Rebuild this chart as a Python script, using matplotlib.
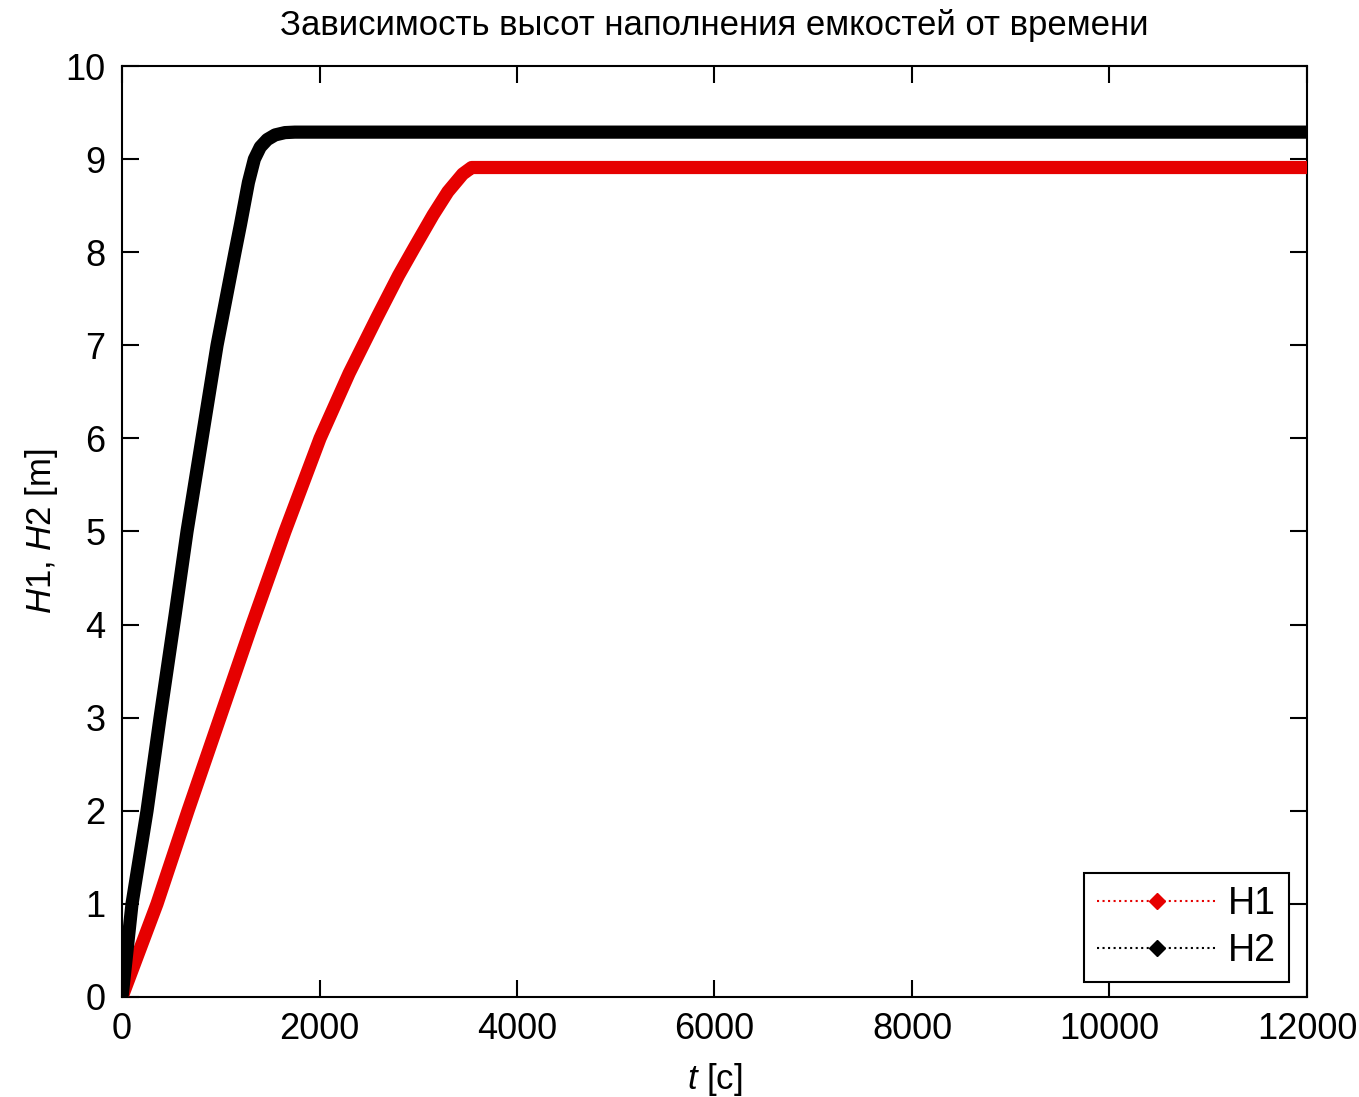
"""
Courbes H1, H2 (hauteurs de remplissage des reservoirs) en fonction du temps,
style figure MATLAB.
"""

import matplotlib
matplotlib.use("Agg")
import matplotlib.pyplot as plt
from matplotlib.lines import Line2D

plt.rcParams['font.family'] = ['Liberation Sans', 'DejaVu Sans']
plt.rcParams['mathtext.fontset'] = 'custom'
plt.rcParams['mathtext.it'] = 'Liberation Sans:italic'
plt.rcParams['mathtext.rm'] = 'Liberation Sans'

# valeurs
T_H1 = [0, 354, 668, 992, 1316, 1650, 2005, 2300, 2582, 2800, 2960,
        3150, 3300, 3450, 3540, 3600, 12000]
H1 = [0, 1.0, 2.0, 3.0, 4.0, 5.0, 6.0, 6.7, 7.3, 7.75, 8.05,
      8.4, 8.65, 8.84, 8.91, 8.91, 8.91]

T_H2 = [0, 101, 253, 385, 537, 658, 810, 962, 1144, 1200, 1280, 1340,
        1400, 1470, 1550, 1650, 1750, 12000]
H2 = [0, 1.0, 2.0, 3.0, 4.1, 5.0, 6.0, 7.0, 8.0, 8.3, 8.75, 9.0,
      9.13, 9.21, 9.26, 9.285, 9.29, 9.29]

X_TICKS = [0, 2000, 4000, 6000, 8000, 10000, 12000]
Y_TICKS = list(range(0, 11))

TITRE = "Зависимость высот наполнения емкостей от времени"
FS = 25

fig = plt.figure(figsize=(13.59, 10.97), dpi=100)
ax = fig.add_axes([0.0898, 0.0912, 0.9617 - 0.0898, 0.9398 - 0.0912])

ax.plot(T_H1, H1, color="#e60000", linewidth=9.5, solid_joinstyle="round",
        solid_capstyle="round", zorder=3)
ax.plot(T_H2, H2, color="black", linewidth=9.5, solid_joinstyle="round",
        solid_capstyle="round", zorder=3)

ax.set_xlim(0, 12000)
ax.set_ylim(0, 10)
ax.set_xticks(X_TICKS)
ax.set_yticks(Y_TICKS)
ax.tick_params(direction="in", length=12, width=1.5, top=True, right=True,
               labelsize=FS + 1)
ax.tick_params(axis="x", pad=11)
ax.tick_params(axis="y", pad=12)
for sp in ax.spines.values():
    sp.set_linewidth(1.5)

ax.set_title(TITRE, fontsize=FS, pad=22)
ax.set_xlabel(r"$t$ [c]", fontsize=FS, labelpad=10)
ax.set_ylabel(r"$H1$, $H2$ [m]", fontsize=FS, labelpad=4)

poignees = [
    Line2D([], [], color="#e60000", linestyle=":", linewidth=1.5,
           marker="D", markersize=8),
    Line2D([], [], color="black", linestyle=":", linewidth=1.5,
           marker="D", markersize=8),
]
leg = ax.legend(poignees, ["H1", "H2"], loc="lower right",
                bbox_to_anchor=(0.985, 0.016), borderaxespad=0,
                fontsize=FS + 2, handlelength=3.2, handletextpad=0.3,
                labelspacing=0.3, borderpad=0.35, fancybox=False,
                edgecolor="black", framealpha=1)
leg.get_frame().set_linewidth(1.5)

fig.savefig("out.png", dpi=100)
